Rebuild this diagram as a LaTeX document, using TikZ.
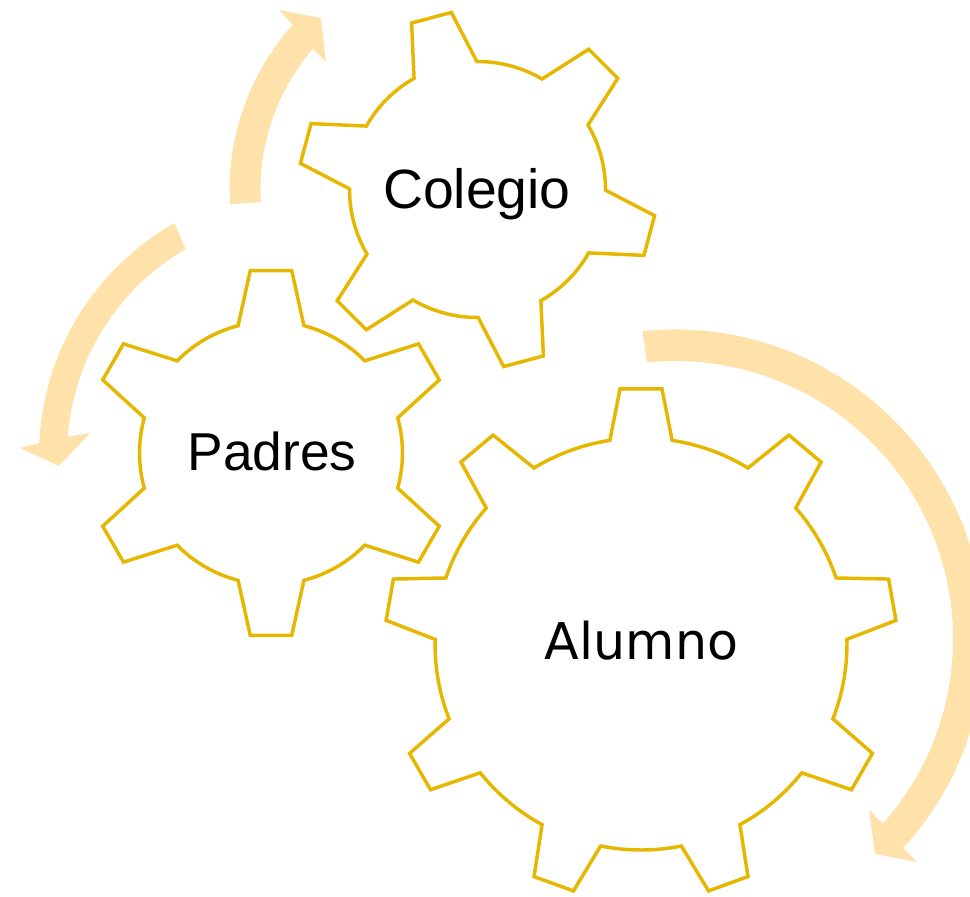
\documentclass[tikz,border=0pt]{standalone}
\usepackage{fontspec}
\usetikzlibrary{calc}
\newfontfamily\gearfont{Liberation Sans}
\newfontfamily\alumnofont{DejaVu Sans}
\definecolor{gearcol}{RGB}{230,183,0}
\definecolor{arrowcol}{RGB}{255,226,170}
\tikzset{
  gearline/.style={draw=gearcol, line width=2.6pt, line join=miter, fill=white},
  arrowfill/.style={fill=arrowcol, draw=none},
  geartext/.style={anchor=base, inner sep=0pt, font=\gearfont\fontsize{40}{48}\selectfont},
  alumnotext/.style={anchor=base, inner sep=0pt, font=\alumnofont\fontsize{38}{46}\selectfont},
}
% #1 centre, #2 teeth, #3 first tooth angle, #4 root radius, #5 tip radius, #6 base half angle, #7 tip half angle
\newcommand\drawgear[7]{%
  \draw[gearline] ($(#1)+({#3-#7}:#5)$)
    -- ($(#1)+({#3+#7}:#5)$)
    -- ($(#1)+({#3+#6}:#4)$)
    arc[start angle={#3+#6}, end angle={#3+360/#2-#6}, radius=#4]
  \foreach \k in {2,...,#2} {
    -- ($(#1)+({#3+(\k-1)*360/#2-#7}:#5)$)
    -- ($(#1)+({#3+(\k-1)*360/#2+#7}:#5)$)
    -- ($(#1)+({#3+(\k-1)*360/#2+#6}:#4)$)
    arc[start angle={#3+(\k-1)*360/#2+#6}, end angle={#3+\k*360/#2-#6}, radius=#4]
  } -- cycle;%
}
\begin{document}
\begin{tikzpicture}[x=0.75pt,y=0.75pt]
\useasboundingbox (0,0) rectangle (970,-896);
\clip (0,0) rectangle (970,-896);
% centres
\coordinate (gc) at (477.5,-189.5);
\coordinate (gp) at (271,-453);
\coordinate (ga) at (641,-644);
\coordinate (act) at (477,-190);
\coordinate (acl) at (305,-455);
\coordinate (acr) at (675,-639);
% arrows
\fill[arrowfill] ($(act)+(183.3:247.5)$) arc[start angle=183.3, end angle=138.1, radius=247.5]
  -- (279,-10) -- (321,-18) -- (326,-62)
  -- ($(act)+(139.3:216.5)$) arc[start angle=139.3, end angle=183.2, radius=216.5] -- cycle;
\fill[arrowfill] ($(acl)+(119.4:266)$) arc[start angle=119.4, end angle=177.4, radius=266]
  -- (20,-448) -- (59,-466) -- (90,-433)
  -- ($(acl)+(175.6:238)$) arc[start angle=175.6, end angle=120.1, radius=238] -- cycle;
\fill[arrowfill] ($(acr)+(96:309.5)$) arc[start angle=96, end angle=-42.5, radius=309.5]
  -- (917,-862) -- (875,-854) -- (869,-810)
  -- ($(acr)+(-41.6:278)$) arc[start angle=-41.6, end angle=95.8, radius=278] -- cycle;
% gears
\drawgear{gc}{6}{105}{128}{179}{14.7}{6.6}
\drawgear{gp}{6}{90}{131.5}{183.5}{14.5}{6.5}
\drawgear{ga}{9}{90}{206}{256}{8.7}{4.7}
% labels
\node[geartext, font=\gearfont\fontsize{41.5}{48}\selectfont] (colegio) at (477,-208) {Colegio};
\node[geartext] (padres) at (272,-470) {Padres};
\node[alumnotext] (alumno) at (641.5,-659) {Alumno};
\end{tikzpicture}
\end{document}
